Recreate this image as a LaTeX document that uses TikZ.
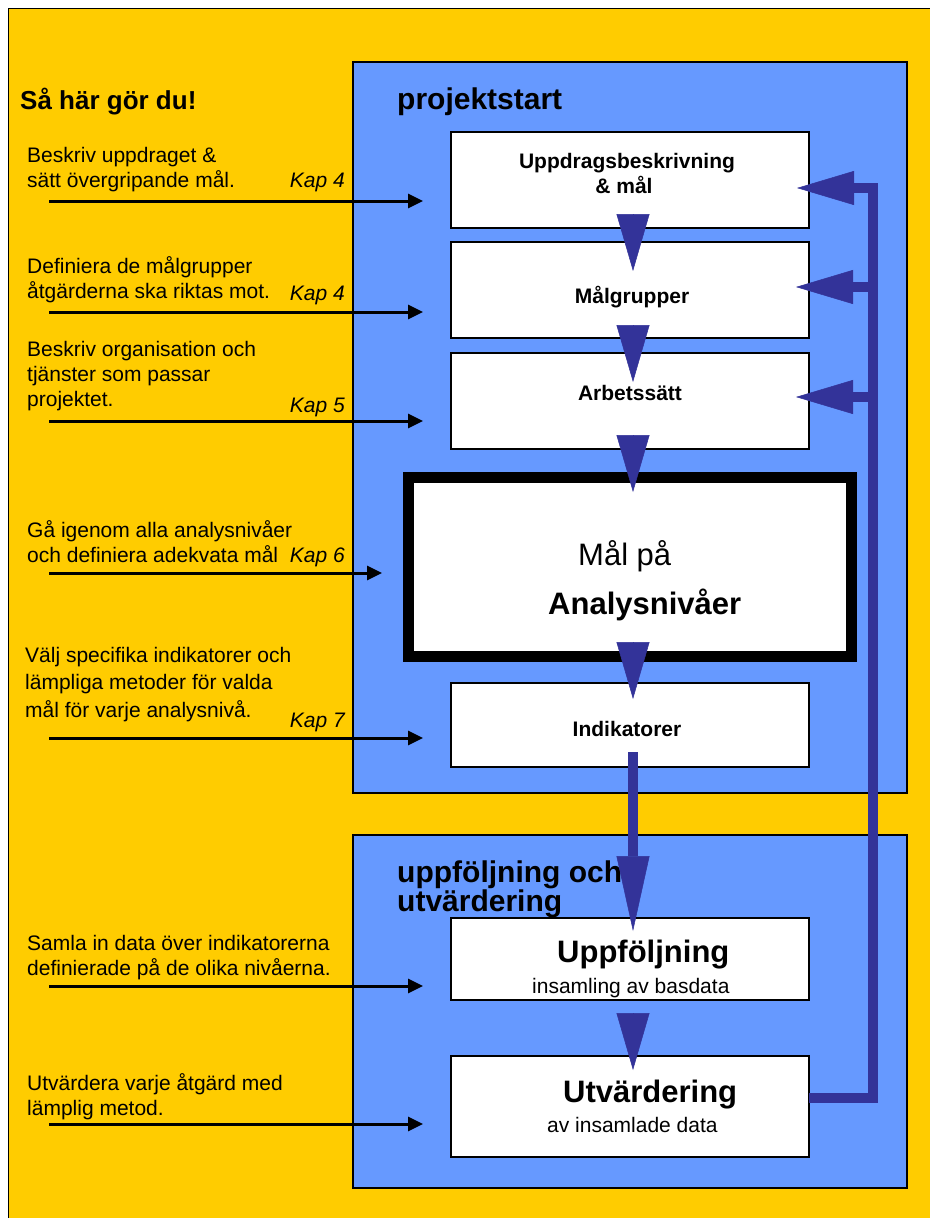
\documentclass[tikz,border=0pt]{standalone}
\usepackage{fontspec}
\setmainfont{Liberation Sans}
\usetikzlibrary{arrows.meta,calc}

\definecolor{gulbg}{RGB}{255,204,0}
\definecolor{blabg}{RGB}{102,153,255}
\definecolor{pilbla}{RGB}{51,51,153}

\begin{document}
\begin{tikzpicture}[x=1pt,y=1pt,yscale=-1,xscale=1,
    panel/.style={draw=black, fill=blabg, line width=1.2, inner sep=0, outer sep=0},
    stepbox/.style={draw=black, fill=white, line width=1.5, minimum width=358pt, inner sep=0, outer sep=0},
    boxlabel/.style={font=\bfseries\fontsize{21}{25}\selectfont, anchor=base, inner sep=0},
    biglabel/.style={font=\fontsize{31}{31}\selectfont, anchor=base west, inner sep=0},
    smalllabel/.style={font=\fontsize{21}{25}\selectfont, anchor=base west, inner sep=0},
    lefttext/.style={font=\fontsize{21}{25}\selectfont, anchor=base west, inner sep=0, align=left},
    kap/.style={font=\itshape\fontsize{21}{25}\selectfont, anchor=base east, inner sep=0},
    header/.style={font=\bfseries\fontsize{30}{29}\selectfont, anchor=base west, inner sep=0},
    inpil/.style={line width=3, -{Triangle[length=15pt,width=14pt]}},
    nedpil/.style={pilbla, line width=0.5, -{Triangle[length=57pt,width=33pt,line width=0.5pt]}},
    fback/.style={pilbla, line width=10, line join=miter, -{Triangle[length=57pt,width=34pt,line width=0.5pt]}}
  ]
  \useasboundingbox (0,0) rectangle (929,1218);

  % background
  \draw [fill=gulbg, line width=1] (8,8) rectangle (945,1235);

  % panels
  \node [panel, minimum width=554pt, minimum height=731pt] (start) at (630,427.5) {};
  \node [panel, minimum width=554pt, minimum height=353pt] (uppfolj) at (630,1011.5) {};

  % headings
  \node [header, font=\bfseries\fontsize{26}{29}\selectfont] (gordu) at (20,109) {Så här gör du!};
  \node [header] (starttxt) at (397,109) {projektstart};
  \node [header] (uppfoljtxt1) at (397,882) {uppföljning och};
  \node [header] (uppfoljtxt2) at (397,911) {utvärdering};

  % boxes
  \node [stepbox, minimum height=96pt] (upd) at (630,180) {};
  \node [stepbox, minimum height=96pt] (malgr) at (630,290) {};
  \node [stepbox, minimum height=96pt] (arb) at (630,401) {};
  \node [draw=black, fill=white, line width=11, minimum width=443pt, minimum height=179pt, inner sep=0, outer sep=0] (ana) at (630,566.5) {};
  \node [stepbox, minimum height=84pt] (ind) at (630,725) {};
  \node [stepbox, minimum height=82pt] (uppf) at (630,959) {};
  \node [stepbox, minimum height=101pt] (utv) at (630,1106.5) {};

  % box texts
  \node [boxlabel] (updtxt1) at (627,168) {Uppdragsbeskrivning};
  \node [boxlabel] (updtxt2) at (624,193) {\& mål};
  \node [boxlabel] (maltxt) at (632,303) {Målgrupper};
  \node [boxlabel] (arbtxt) at (630,400) {Arbetssätt};
  \node [biglabel] (anatxt1) at (578,565) {Mål på};
  \node [biglabel, font=\bfseries\fontsize{31}{31}\selectfont] (anatxt2) at (548,614) {Analysnivåer};
  \node [boxlabel] (indtxt) at (627,736) {Indikatorer};
  \node [biglabel, font=\bfseries\fontsize{31}{31}\selectfont] (uppftxt1) at (557,962) {Uppföljning};
  \node [smalllabel] (uppftxt2) at (532,993) {insamling av basdata};
  \node [biglabel, font=\bfseries\fontsize{31}{31}\selectfont] (utvtxt1) at (563,1102) {Utvärdering};
  \node [smalllabel] (utvtxt2) at (547,1132) {av insamlade data};

  % flow between boxes
  \draw [nedpil] ($(upd.south)+(3,-14)$) -- ($(malgr.north)+(3,29)$);
  \draw [nedpil] ($(malgr.south)+(3,-13)$) -- ($(arb.north)+(3,29)$);
  \draw [nedpil] ($(arb.south)+(3,-14)$) -- ($(ana.north)+(3,15)$);
  \draw [nedpil] ($(ana.south)+(3,-14)$) -- ($(ind.north)+(3,16)$);
  \draw [pilbla, line width=10, -{Triangle[length=75pt,width=33pt,line width=0.5pt]}] ($(ind.south)+(3,-15)$) -- ($(uppf.north)+(3,13)$);
  \draw [nedpil] ($(uppf.south)+(3,13)$) -- ($(utv.north)+(3,14)$);

  % feedback loop
  \coordinate (fbhorn) at (873,188);
  \coordinate (fb2) at (873,287);
  \coordinate (fb3) at (873,397);
  \draw [fback] ($(utv.east)+(0,-9)$) -| (fbhorn) -- ($(upd.east)+(-12,8)$);
  \draw [fback] (fb2) -- ($(malgr.east)+(-13,-3)$);
  \draw [fback] (fb3) -- ($(arb.east)+(-13,-4)$);

  % left side (base = last line)
  \node [lefttext] (t1) at (27,187) {Beskriv uppdraget \&\\sätt övergripande mål.};
  \node [lefttext] (t2) at (27,298) {Definiera de målgrupper\\åtgärderna ska riktas mot.};
  \node [lefttext] (t3) at (27,406) {Beskriv organisation och\\tjänster som passar\\projektet.};
  \node [lefttext] (t4) at (27,562) {Gå igenom alla analysnivåer\\och definiera adekvata mål};
  \node [lefttext, font=\fontsize{21}{27.5}\selectfont] (t5) at (25,717) {Välj specifika indikatorer och\\lämpliga metoder för valda\\mål för varje analysnivå.};
  \node [lefttext] (t6) at (27,975) {Samla in data över indikatorerna\\definierade på de olika nivåerna.};
  \node [lefttext] (t7) at (27,1115) {Utvärdera varje åtgärd med\\lämplig metod.};

  \node [kap] (k1) at (345,187) {Kap 4};
  \node [kap] (k2) at (345,300) {Kap 4};
  \node [kap] (k3) at (345,412) {Kap 5};
  \node [kap] (k4) at (345,562) {Kap 6};
  \node [kap] (k5) at (345,727) {Kap 7};

  \coordinate (p1a) at (49,201);  \coordinate (p1b) at (423,201);
  \coordinate (p2a) at (49,312);  \coordinate (p2b) at (423,312);
  \coordinate (p3a) at (49,421);  \coordinate (p3b) at (423,421);
  \coordinate (p4a) at (49,573);  \coordinate (p4b) at (382,573);
  \coordinate (p5a) at (49,738);  \coordinate (p5b) at (423,738);
  \coordinate (p6a) at (49,986);  \coordinate (p6b) at (423,986);
  \coordinate (p7a) at (49,1124); \coordinate (p7b) at (423,1124);
  \draw [inpil] (p1a) -- (p1b);
  \draw [inpil] (p2a) -- (p2b);
  \draw [inpil] (p3a) -- (p3b);
  \draw [inpil] (p4a) -- (p4b);
  \draw [inpil] (p5a) -- (p5b);
  \draw [inpil] (p6a) -- (p6b);
  \draw [inpil] (p7a) -- (p7b);
\end{tikzpicture}
\end{document}
